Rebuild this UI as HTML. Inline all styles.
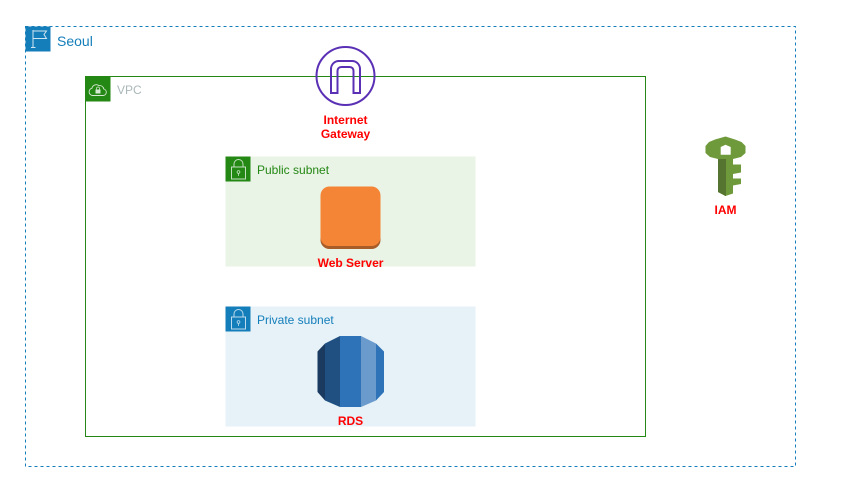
<!DOCTYPE html>
<html><head><meta charset="utf-8"><style>
html,body{margin:0;padding:0;background:#fff;width:847px;height:490px;overflow:hidden}
svg{display:block}
text{font-family:"Liberation Sans",Arial,sans-serif;font-size:12px}
.r{fill:#FF0000;font-weight:bold;text-anchor:middle}
</style></head><body>
<svg width="847" height="490" viewBox="0 0 847 490" xmlns="http://www.w3.org/2000/svg">
<rect width="847" height="490" fill="#fff"/>
<!-- Region -->
<rect x="25.5" y="26.5" width="770" height="440" fill="none" stroke="#147EBA" stroke-dasharray="3 3"/>
<rect x="25.5" y="26.5" width="25" height="25" fill="#147EBA"/>
<path d="M33 30V47.500M31 47.500h4.500M33 31h13.500l-2.500 3.500 2.500 4h-13.500" fill="none" stroke="#cfe5f2" stroke-width="1"/>
<text x="57" y="46" style="font-size:14px" fill="#147EBA">Seoul</text>
<!-- VPC -->
<rect x="85.5" y="76.5" width="560" height="360" fill="none" stroke="#248814"/>
<rect x="85.5" y="76.5" width="25" height="25" fill="#248814"/>
<path d="M92.500 95.500h10.500a3.300 3.300 0 0 0 .8-6.500 4 4 0 0 0-4.800-3.300 4.300 4.300 0 0 0-7 2.500A3.700 3.700 0 0 0 92.500 95.500z" fill="none" stroke="#d5e8d2" stroke-width="0.900"/>
<rect x="95.500" y="89.500" width="5" height="4" fill="#d5e8d2"/>
<path d="M96.500 89.500v-1a1.500 1.500 0 0 1 3 0v1" fill="none" stroke="#d5e8d2" stroke-width="0.700"/>
<text x="117" y="94" fill="#AAB7B8">VPC</text>
<!-- Public subnet -->
<rect x="225.500" y="156.500" width="250" height="110" fill="#E9F3E6"/>
<rect x="225.500" y="156.500" width="25" height="25" fill="#248814"/>
<rect x="231.500" y="167" width="14" height="12" fill="none" stroke="#c5dfc1"/>
<path d="M234 167v-3a4.500 4.500 0 0 1 9 0v3" fill="none" stroke="#c5dfc1"/>
<circle cx="238.500" cy="172" r="1.400" fill="none" stroke="#c5dfc1" stroke-width="0.800"/>
<path d="M238.500 173.500v2.500" stroke="#c5dfc1" stroke-width="0.800"/>
<text x="257" y="174" fill="#248814">Public subnet</text>
<!-- Private subnet -->
<rect x="225.500" y="306.500" width="250" height="120" fill="#E6F2F8"/>
<rect x="225.500" y="306.500" width="25" height="25" fill="#147EBA"/>
<rect x="231.500" y="317" width="14" height="12" fill="none" stroke="#bcdbee"/>
<path d="M234 317v-3a4.500 4.500 0 0 1 9 0v3" fill="none" stroke="#bcdbee"/>
<circle cx="238.500" cy="322" r="1.400" fill="none" stroke="#bcdbee" stroke-width="0.800"/>
<path d="M238.500 323.500v2.500" stroke="#bcdbee" stroke-width="0.800"/>
<text x="257" y="324" fill="#147EBA">Private subnet</text>
<!-- Internet Gateway -->
<circle cx="345.500" cy="76" r="29" fill="none" stroke="#5A30B5" stroke-width="2"/>
<path d="M331 93V69c0-4 3-8 8-8h13c5 0 8 4 8 8v24h-6.500V71c0-2.500-1.500-4-4-4h-8c-2.500 0-4 1.500-4 4v22z" fill="none" stroke="#5A30B5" stroke-width="2"/>
<text class="r" x="345.500" y="124">Internet</text>
<text class="r" x="345.500" y="138">Gateway</text>
<!-- Web Server -->
<rect x="320.500" y="190" width="60" height="59" rx="9" fill="#A85C28"/>
<rect x="320.500" y="186.500" width="60" height="59.500" rx="9" fill="#F58536"/>
<text class="r" x="350.500" y="267">Web Server</text>
<!-- RDS -->
<path d="M325 343.500 317.500 351.500V392L325 400.500z" fill="#1A3A5F"/>
<path d="M325 343.500 340 336V407L325 400.500z" fill="#205081"/>
<rect x="340" y="336" width="21" height="71" fill="#2E73B8"/>
<path d="M361 336 376 343.500V400.500L361 407z" fill="#6B9BCD"/>
<path d="M376 343.500 384 351.500V392L376 400.500z" fill="#2E73B8"/>
<text class="r" x="350.500" y="425">RDS</text>
<!-- IAM key -->
<path d="M725.500 136.500 735 139.500 741.500 142 745.500 146V153L741 157 733 159V164.500H741V172.500L733 174V178.500H741V184L733 185.500V193.500L725.500 196 718 192V159L710 157 705.500 153V146L709 142 715 139.500z" fill="#6F9A3B"/>
<path d="M718 159H726V196H725.500L718 192z" fill="#55742F"/>
<path d="M720.700 147 725.500 144.700 730.700 147V154.700H720.700z" fill="#fff"/>
<text class="r" x="725.500" y="214">IAM</text>
</svg>
</body></html>
